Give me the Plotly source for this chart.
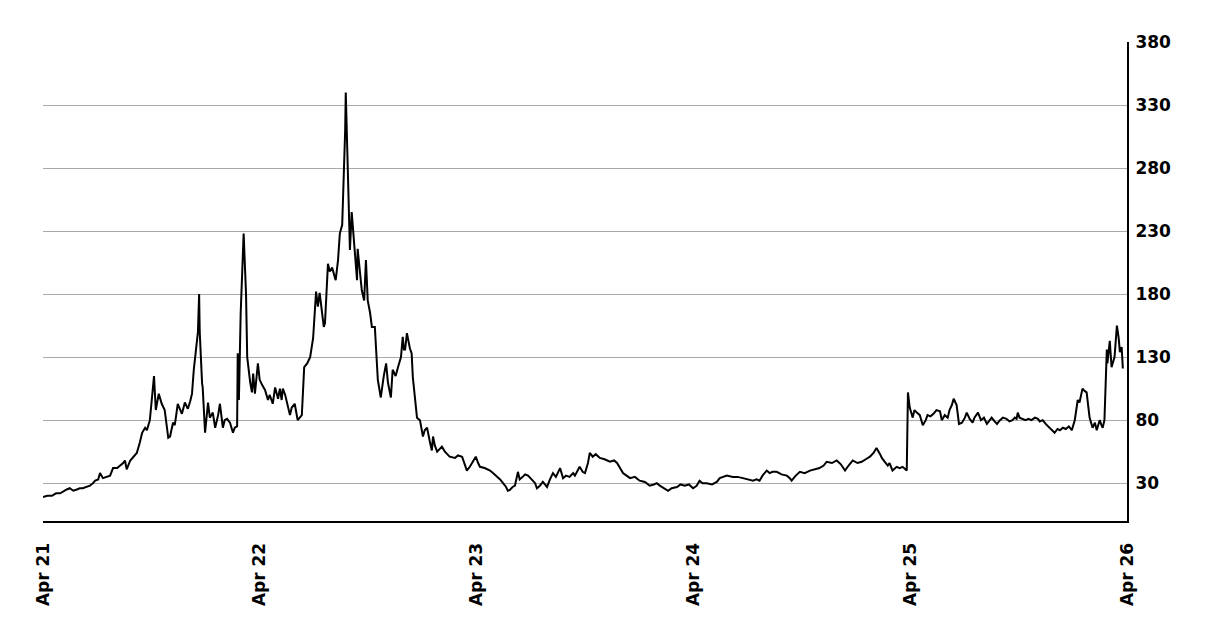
import pandas as pd
import plotly.graph_objects as go

start_date = "2021-04-01"

# observation times, in days since 2021-04-01
day_offsets = [
    0, 7, 15, 22, 29, 35, 40, 45, 51, 57, 62, 67, 74, 79, 84, 88, 93, 96, 101, 106,
    113, 118, 125, 130, 135, 138, 141, 147, 152, 158, 163, 167, 172, 175, 180, 184, 187, 190, 195, 200,
    205, 211, 214, 219, 222, 227, 231, 234, 239, 244, 248, 251, 254, 256, 259, 261, 263, 264, 268, 269,
    273, 278, 281, 286, 290, 295, 298, 303, 306, 310, 315, 320, 323, 327, 328, 330, 333, 337, 338, 342,
    344, 349, 352, 354, 357, 362, 365, 369, 374, 379, 382, 387, 391, 396, 399, 402, 404, 408, 411, 416,
    419, 424, 429, 433, 436, 440, 445, 450, 455, 460, 463, 466, 470, 473, 475, 480, 483, 487, 490, 493,
    497, 500, 504, 507, 509, 510, 512, 514, 517, 520, 525, 529, 530, 534, 537, 541, 544, 547, 551, 554,
    559, 564, 569, 574, 578, 581, 586, 589, 594, 598, 603, 606, 608, 610, 613, 618, 621, 623, 630, 635,
    640, 643, 647, 652, 655, 657, 660, 664, 669, 672, 677, 685, 694, 699, 706, 711, 714, 719, 724, 729,
    733, 736, 744, 753, 758, 765, 770, 775, 780, 783, 786, 791, 795, 800, 803, 808, 812, 817, 823, 829,
    832, 837, 842, 845, 849, 854, 859, 864, 871, 876, 881, 887, 893, 896, 901, 904, 909, 913, 918, 921,
    926, 931, 938, 946, 955, 962, 967, 972, 977, 983, 989, 997, 1005, 1014, 1022, 1029, 1034, 1039, 1046, 1053,
    1059, 1068, 1074, 1081, 1088, 1095, 1101, 1106, 1111, 1118, 1127, 1135, 1140, 1145, 1152, 1162, 1170, 1179, 1187, 1196,
    1202, 1207, 1212, 1219, 1224, 1229, 1236, 1244, 1253, 1258, 1261, 1268, 1275, 1283, 1292, 1300, 1308, 1315, 1320, 1329,
    1337, 1344, 1351, 1357, 1364, 1372, 1379, 1386, 1393, 1399, 1404, 1410, 1413, 1418, 1423, 1426, 1431, 1438, 1443, 1448,
    1452, 1455, 1457, 1460, 1465, 1468, 1472, 1477, 1482, 1487, 1490, 1495, 1500, 1505, 1511, 1514, 1519, 1524, 1527, 1531,
    1534, 1539, 1543, 1548, 1553, 1556, 1561, 1566, 1569, 1575, 1580, 1585, 1590, 1595, 1598, 1603, 1607, 1612, 1617, 1623,
    1628, 1633, 1637, 1640, 1642, 1645, 1650, 1655, 1660, 1665, 1671, 1676, 1679, 1684, 1689, 1696, 1701, 1704, 1709, 1713,
    1718, 1723, 1728, 1733, 1738, 1743, 1746, 1751, 1755, 1758, 1761, 1763, 1768, 1772, 1775, 1780, 1783, 1785, 1788, 1792,
    1793, 1797, 1800, 1804, 1805, 1809, 1812, 1814, 1817, 1819,
]

values = [
    19, 20, 20, 22, 22, 24, 25, 26, 24, 25, 26, 26, 27, 28, 30, 32, 33, 38, 34, 35,
    36, 42, 42, 44, 46, 48, 41, 48, 51, 54, 62, 70, 74, 72, 80, 97, 115, 88, 101, 93,
    88, 66, 67, 78, 76, 93, 88, 85, 94, 89, 95, 101, 120, 130, 143, 150, 180, 150, 109, 106,
    70, 94, 82, 86, 74, 84, 93, 74, 80, 81, 78, 70, 74, 75, 133, 96, 165, 210, 228, 180,
    130, 110, 102, 117, 101, 125, 112, 108, 104, 96, 100, 93, 106, 97, 105, 96, 105, 100, 94, 84,
    90, 93, 80, 82, 84, 122, 125, 130, 145, 182, 170, 181, 165, 154, 157, 204, 198, 201, 196, 191,
    207, 228, 235, 276, 310, 340, 300, 270, 215, 245, 217, 191, 216, 195, 183, 175, 207, 175, 165, 154,
    154, 112, 98, 115, 125, 110, 98, 120, 115, 122, 130, 146, 136, 136, 149, 137, 133, 114, 82, 80,
    67, 72, 74, 62, 56, 67, 60, 55, 58, 59, 55, 51, 50, 52, 51, 45, 40, 43, 47, 51,
    46, 43, 42, 40, 38, 35, 33, 30, 27, 24, 24.5, 27, 28, 39, 33, 35, 37, 36, 33, 30,
    26, 28, 31, 29, 27, 33, 38, 35, 42, 34, 36, 35, 38, 36, 40, 43, 39, 38, 46, 54,
    51, 53, 50, 49, 47, 48, 46, 42, 38, 36, 34, 35, 32, 31, 28, 29, 30, 28, 26, 24,
    26, 27, 29, 28, 29, 26, 28, 32, 30, 30, 29, 31, 34, 35, 36, 35, 35, 34, 33, 32,
    33, 32, 36, 40, 38, 39, 39, 37, 36, 34, 32, 36, 39, 38, 40, 41, 42, 44, 47, 46,
    48, 45, 40, 44, 48, 46, 47, 49, 51, 54, 58, 53, 50, 47, 44, 46, 40, 43, 42, 43,
    41, 40, 102, 90, 82, 88, 86, 84, 76, 80, 84, 83, 85, 88, 87, 80, 84, 82, 88, 92,
    97, 92, 77, 78, 82, 86, 81, 78, 82, 86, 80, 82, 77, 80, 82, 79, 77, 80, 82, 81,
    79, 80, 82, 81, 86, 82, 81, 80, 81, 80, 82, 81, 79, 80, 77, 74, 72, 70, 73, 72,
    74, 73, 75, 72, 80, 96, 94, 105, 103, 102, 90, 82, 74, 78, 72, 80, 76, 74, 80, 136,
    125, 143, 122, 128, 130, 155, 145, 134, 138, 121,
]

x_ticks = ["2021-04-01", "2022-04-01", "2023-04-01", "2024-04-01", "2025-04-01", "2026-04-01"]
x_tick_labels = ["Apr 21", "Apr 22", "Apr 23", "Apr 24", "Apr 25", "Apr 26"]
y_ticks = [30, 80, 130, 180, 230, 280, 330, 380]

dates = pd.to_datetime(start_date) + pd.to_timedelta(day_offsets, unit="D")

fig = go.Figure(
    go.Scatter(
        x=dates,
        y=values,
        mode="lines",
        line=dict(color="black", width=2),
        hoverinfo="x+y",
    )
)

tick_font = dict(family="DejaVu Sans, sans-serif", size=17, color="black", weight="bold")

fig.update_layout(
    width=1197,
    height=630,
    margin=dict(l=35, r=78, t=34, b=117),
    paper_bgcolor="white",
    plot_bgcolor="white",
    showlegend=False,
    xaxis=dict(
        range=["2021-04-01", "2026-04-01"],
        tickvals=x_ticks,
        ticktext=x_tick_labels,
        tickangle=-90,
        tickfont=tick_font,
        showgrid=False,
        zeroline=False,
        showline=True,
        linecolor="black",
        linewidth=2,
        ticks="",
        ticklabelstandoff=13,
    ),
    yaxis=dict(
        side="right",
        range=[0, 380],
        tickvals=y_ticks,
        tickfont=tick_font,
        showgrid=True,
        gridcolor="#aaaaaa",
        gridwidth=1,
        zeroline=False,
        showline=True,
        linecolor="black",
        linewidth=2,
        ticks="",
        ticklabelstandoff=3,
    ),
)

fig.write_html("out.html")
